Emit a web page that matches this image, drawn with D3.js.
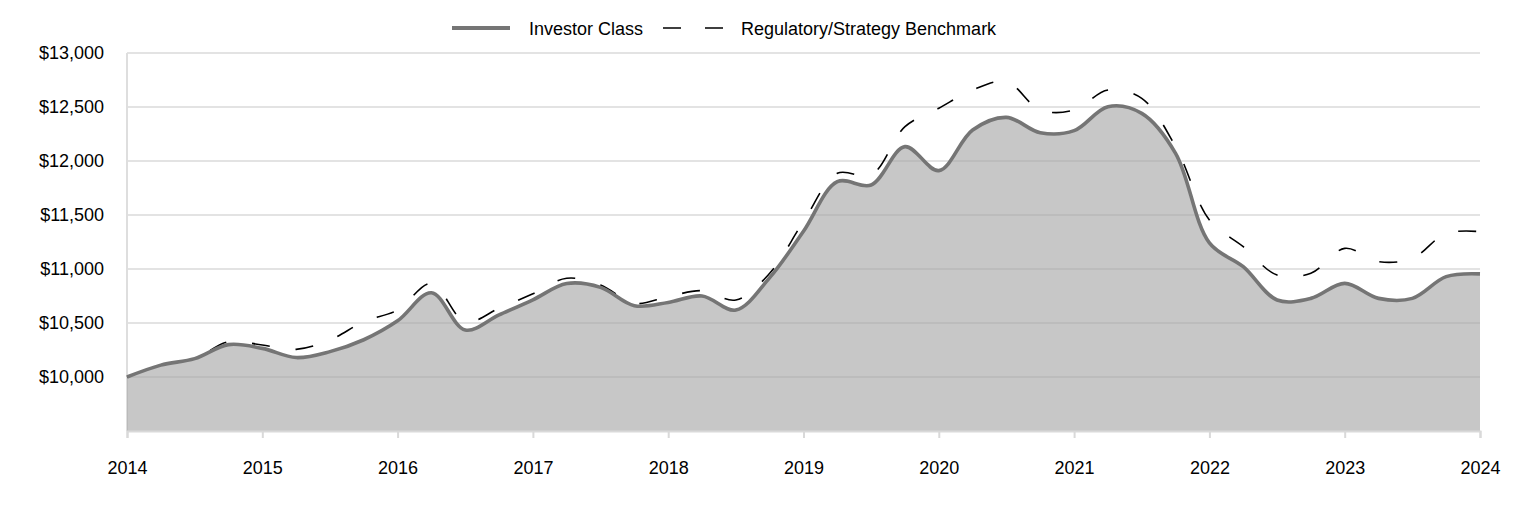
<!DOCTYPE html>
<html>
<head>
<meta charset="utf-8">
<script src="https://cdn.jsdelivr.net/npm/d3@7"></script>
<style>
  body { margin: 0; background: #fff; }
  svg { font-family: "Liberation Sans", Arial, sans-serif; }
</style>
</head>
<body>
<svg width="1524" height="516"></svg>
<script>
// quarter-end points, 2014 .. 2024
var quarters = d3.range(41).map(function(i) { return 2014 + i / 4; });

var investorClass = [
  10000, 10110, 10170, 10300, 10265, 10180, 10235, 10345, 10520, 10780,
  10435, 10575, 10715, 10865, 10830, 10660, 10690, 10750, 10620, 10920,
  11350, 11808, 11778, 12133, 11911, 12287, 12404, 12262, 12281, 12503,
  12441, 12071, 11241, 11021, 10713, 10728, 10867, 10728, 10728, 10929,
  10955
];

var benchmark = [
  10000, 10110, 10170, 10327, 10296, 10256, 10343, 10512, 10620, 10867,
  10512, 10636, 10770, 10914, 10852, 10682, 10744, 10799, 10713, 10960,
  11440, 11886, 11870, 12318, 12488, 12657, 12734, 12472, 12472, 12657,
  12580, 12133, 11454, 11207, 10944, 10960, 11191, 11068, 11099, 11330,
  11346
];

var yTicks = [10000, 10500, 11000, 11500, 12000, 12500, 13000];
var xTicks = d3.range(2014, 2025);
var seriesNames = ["Investor Class", "Regulatory/Strategy Benchmark"];

var svg = d3.select("svg");
var plotLeft = 127, plotRight = 1480, plotTop = 53, plotBottom = 431;
var fontSize = 18;

var x = d3.scaleLinear().domain([2014, 2024]).range([plotLeft, plotRight]);
var y = d3.scaleLinear().domain([9500, 13000]).range([plotBottom, plotTop]);

// gridlines
svg.append("g")
  .selectAll("line")
  .data(yTicks)
  .enter().append("line")
    .attr("x1", plotLeft).attr("x2", plotRight)
    .attr("y1", function(d) { return y(d); })
    .attr("y2", function(d) { return y(d); })
    .attr("stroke", "#e3e3e3")
    .attr("stroke-width", 2);

// left axis line
svg.append("line")
  .attr("x1", plotLeft).attr("x2", plotLeft)
  .attr("y1", plotTop).attr("y2", plotBottom)
  .attr("stroke", "#dedede").attr("stroke-width", 2);

var curve = d3.curveCatmullRom.alpha(0.5);

var area = d3.area()
  .x(function(d, i) { return x(quarters[i]); })
  .y0(plotBottom)
  .y1(function(d) { return y(d); })
  .curve(curve);

svg.append("path")
  .datum(investorClass)
  .attr("d", area)
  .attr("fill", "#a5a5a5")
  .attr("fill-opacity", 0.62);

var line = d3.line()
  .x(function(d, i) { return x(quarters[i]); })
  .y(function(d) { return y(d); })
  .curve(curve);

svg.append("path")
  .datum(benchmark)
  .attr("d", line)
  .attr("fill", "none")
  .attr("stroke", "#000")
  .attr("stroke-width", 1.6)
  .attr("stroke-dasharray", "18,26");

svg.append("path")
  .datum(investorClass)
  .attr("d", line)
  .attr("fill", "none")
  .attr("stroke", "#757575")
  .attr("stroke-width", 3.6);

// x axis
var xAxis = d3.axisBottom(x)
  .tickValues(xTicks)
  .tickFormat(d3.format("d"))
  .tickSize(7)
  .tickPadding(23);

var gx = svg.append("g")
  .attr("transform", "translate(0," + plotBottom + ")")
  .call(xAxis);
gx.attr("font-size", fontSize).attr("font-family", "Liberation Sans, Arial, sans-serif");
gx.select(".domain").attr("stroke", "#d9d9d9").attr("stroke-width", 2);
gx.selectAll(".tick line").attr("stroke", "#d9d9d9").attr("stroke-width", 2);
gx.selectAll(".tick text").attr("fill", "#000");

// y axis
var yAxis = d3.axisLeft(y)
  .tickValues(yTicks)
  .tickFormat(function(d) { return "$" + d3.format(",")(d); })
  .tickSize(0)
  .tickPadding(23);

var gy = svg.append("g")
  .attr("transform", "translate(" + plotLeft + ",0)")
  .call(yAxis);
gy.attr("font-size", fontSize).attr("font-family", "Liberation Sans, Arial, sans-serif");
gy.select(".domain").remove();
gy.selectAll(".tick text").attr("fill", "#000");

// legend
var legend = svg.append("g").attr("font-size", fontSize);
legend.append("line")
  .attr("x1", 452).attr("x2", 510).attr("y1", 28).attr("y2", 28)
  .attr("stroke", "#757575").attr("stroke-width", 4);
legend.append("text")
  .attr("x", 529).attr("y", 34.5)
  .text(seriesNames[0]);
legend.append("line")
  .attr("x1", 663).attr("x2", 723).attr("y1", 28).attr("y2", 28)
  .attr("stroke", "#000").attr("stroke-width", 1.6)
  .attr("stroke-dasharray", "18,24");
legend.append("text")
  .attr("x", 741).attr("y", 34.5)
  .text(seriesNames[1]);
</script>
</body>
</html>
